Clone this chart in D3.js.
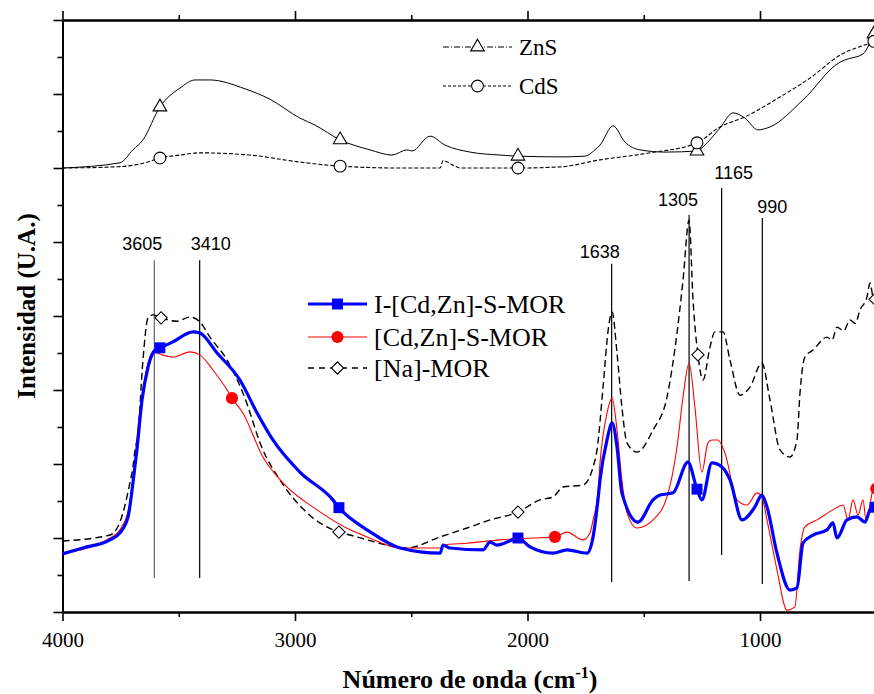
<!DOCTYPE html>
<html>
<head>
<meta charset="utf-8">
<script src="https://cdn.jsdelivr.net/npm/d3@7"></script>
<style>
  body { margin: 0; background: #fff; }
</style>
</head>
<body>
<div id="container"></div>
<script>
// x axis (wavenumber, reversed)
const xMajorTicks = [4000, 3000, 2000, 1000];
const xMinorTicks = [3500, 2500, 1500, 500];

// spectra: [wavenumber, intensity (a.u.)]
const znsData = [
  [4000, 12.0], [3753, 12.14], [3697, 12.49], [3654, 12.76], [3581, 13.65], [3495, 14.16],
  [3430, 14.38], [3366, 14.38], [3215, 14.14], [3108, 13.86], [2979, 13.35], [2914, 13.16],
  [2806, 12.76], [2677, 12.49], [2583, 12.35], [2518, 12.49], [2497, 12.46], [2419, 12.86],
  [2355, 12.62], [2247, 12.43], [2118, 12.35], [2041, 12.32], [1860, 12.30], [1753, 12.32],
  [1710, 12.49], [1688, 12.62], [1632, 13.14], [1581, 12.70], [1516, 12.49], [1409, 12.43],
  [1267, 12.46], [1237, 12.62], [1172, 13.08], [1116, 13.49], [1065, 13.35], [1009, 13.03],
  [957, 13.11], [815, 13.84], [656, 14.86], [635, 14.92], [557, 15.08], [530, 15.35],
  [510, 15.62], [441, 16.1]
];
const cdsData = [
  [4000, 12.0], [3774, 12.03], [3645, 12.14], [3581, 12.27], [3495, 12.35], [3409, 12.41],
  [3194, 12.35], [2979, 12.16], [2806, 12.05], [2548, 12.0], [2376, 12.0], [2363, 12.2],
  [2312, 12.05], [2290, 12.0], [2041, 12.0], [1860, 12.03], [1688, 12.22], [1473, 12.41],
  [1271, 12.68], [1172, 13.11], [1065, 13.38], [914, 13.92], [785, 14.43], [656, 15.05],
  [527, 15.38], [441, 15.6]
];
const iCdZnData = [
  [4000, 1.57], [3912, 1.73], [3796, 1.95], [3753, 2.14], [3718, 2.57], [3697, 3.49],
  [3680, 4.38], [3658, 5.73], [3632, 6.62], [3602, 7.08], [3581, 7.14], [3525, 7.30],
  [3439, 7.57], [3409, 7.54], [3335, 7.00], [3237, 6.27], [3163, 5.38], [3095, 4.65],
  [2979, 3.78], [2837, 3.03], [2811, 2.82], [2763, 2.54], [2690, 2.22], [2548, 1.73],
  [2376, 1.59], [2363, 1.81], [2333, 1.73], [2191, 1.68], [2161, 1.89], [2131, 1.81],
  [2088, 1.89], [2041, 2.0], [1989, 1.76], [1890, 1.59], [1830, 1.68], [1744, 1.59],
  [1718, 2.03], [1697, 3.03], [1688, 3.57], [1658, 4.65], [1636, 5.11], [1615, 4.46],
  [1594, 3.22], [1525, 2.43], [1460, 3.03], [1430, 3.16], [1374, 3.22], [1310, 4.05],
  [1271, 3.32], [1250, 3.03], [1207, 4.03], [1164, 3.92], [1129, 3.57], [1077, 2.49],
  [1022, 2.84], [992, 3.16], [970, 2.84], [927, 1.59], [871, 0.59], [841, 0.65],
  [815, 1.86], [772, 2.08], [712, 2.22], [686, 2.41], [669, 2.0], [626, 2.49],
  [583, 2.57], [548, 2.43], [527, 2.76], [484, 2.9]
];
const cdZnData = [
  [4000, 1.59], [3796, 2.0], [3753, 2.22], [3710, 2.95], [3688, 3.92], [3680, 4.65],
  [3654, 6.0], [3624, 6.89], [3611, 7.03], [3572, 6.95], [3525, 6.89], [3452, 7.03],
  [3409, 6.95], [3353, 6.54], [3292, 6.0], [3271, 5.78], [3224, 5.38], [3138, 4.19],
  [3052, 3.49], [2905, 2.76], [2763, 2.22], [2690, 2.03], [2548, 1.73], [2376, 1.73],
  [2363, 1.81], [2260, 1.86], [2118, 1.95], [1976, 2.0], [1882, 2.03], [1830, 2.16],
  [1761, 1.95], [1731, 2.14], [1718, 2.49], [1697, 3.22], [1688, 4.03], [1658, 5.38],
  [1636, 5.78], [1615, 4.92], [1594, 3.57], [1572, 2.68], [1529, 2.27], [1460, 2.49],
  [1400, 3.11], [1357, 4.46], [1331, 5.81], [1305, 6.73], [1280, 5.54], [1250, 3.78],
  [1224, 4.57], [1207, 4.65], [1181, 4.65], [1151, 4.30], [1099, 3.03], [1056, 2.89],
  [1013, 3.22], [992, 3.11], [970, 2.49], [927, 1.14], [884, 0.05], [850, 0.14],
  [828, 1.68], [807, 2.30], [755, 2.49], [686, 2.76], [643, 2.89], [621, 2.49],
  [600, 3.03], [578, 2.62], [557, 3.03], [544, 2.49], [527, 2.89], [514, 3.30], [470, 3.4]
];
const naMorData = [
  [4000, 1.92], [3796, 2.08], [3753, 2.43], [3710, 3.49], [3697, 3.92], [3688, 4.38],
  [3675, 4.84], [3654, 6.81], [3632, 7.95], [3611, 8.03], [3576, 7.95], [3508, 7.86],
  [3452, 7.97], [3409, 7.84], [3366, 7.43], [3292, 6.81], [3224, 5.92], [3138, 4.38],
  [3065, 3.57], [2948, 2.68], [2811, 2.16], [2763, 2.08], [2690, 1.95], [2518, 1.73],
  [2376, 2.03], [2260, 2.27], [2161, 2.49], [2041, 2.70], [1946, 3.03], [1890, 3.11],
  [1847, 3.38], [1761, 3.43], [1718, 3.92], [1701, 4.38], [1675, 6.08], [1653, 7.62],
  [1636, 8.11], [1615, 7.00], [1594, 5.54], [1572, 4.57], [1529, 4.32], [1460, 4.92],
  [1400, 5.81], [1357, 7.54], [1331, 8.97], [1305, 10.59], [1288, 8.43], [1267, 6.95],
  [1245, 6.27], [1215, 7.16], [1194, 7.57], [1159, 7.57], [1129, 6.81], [1086, 5.86],
  [1043, 6.08], [992, 6.73], [957, 5.73], [914, 4.38], [871, 4.19], [841, 4.65],
  [828, 5.92], [807, 6.89], [772, 7.08], [712, 7.43], [690, 7.35], [669, 7.70],
  [640, 7.6], [613, 7.89], [590, 7.8], [570, 8.16], [540, 8.51], [527, 8.89], [510, 8.43], [470, 8.6]
];

// marker positions (wavenumber)
const topMarkers = [3581, 2806, 2041, 1271, 510];
const squareMarkers = [3581, 2811, 2041, 1271, 505];
const circleMarkers = [3271, 1882, 500];
const diamondMarkers = [3576, 2811, 2041, 1267, 505];

// reference bands: [wavenumber, top, bottom]
const bandLabels = ['3605', '3410', '1638', '1305', '1165', '990'];
const bandLines = [
  [3605, 9.51, 0.92], [3410, 9.51, 0.92], [1638, 9.41, 0.81],
  [1305, 10.73, 0.84], [1165, 11.46, 1.54], [990, 10.65, 0.76]
];
const bandLabelLevels = [9.78, 9.78, 9.57, 10.97, 11.70, 10.78];
const bandLabelShift = [-12, 11, -12, -11, 12, 10];

const legendMain = ['I-[Cd,Zn]-S-MOR', '[Cd,Zn]-S-MOR', '[Na]-MOR'];
const legendTop = ['ZnS', 'CdS'];

const svgWidth = 874;
const svgHeight = 694;
const plotLeft = 62.5, plotRight = 899.5, plotTop = 20, plotBottom = 612;
const serif = "'Liberation Serif', 'Times New Roman', serif";
const sans = "'Liberation Sans', Arial, sans-serif";

const svg = d3.select('#container')
  .append('svg')
  .attr('width', svgWidth)
  .attr('height', svgHeight)
  .style('display', 'block');

svg.append('rect').attr('width', svgWidth).attr('height', svgHeight).attr('fill', '#fff');

const xScale = d3.scaleLinear().domain([4000, 400]).range([plotLeft, plotRight]);
const yScale = d3.scaleLinear().domain([0, 16]).range([plotBottom, plotTop]);

const line = d3.line()
  .x(d => xScale(d[0]))
  .y(d => yScale(d[1]))
  .curve(d3.curveMonotoneX);

const interp = (data, wn) => {
  for (let i = 0; i < data.length - 1; i++) {
    const a = data[i], b = data[i + 1];
    if (wn <= a[0] && wn >= b[0]) {
      const t = (a[0] - wn) / (a[0] - b[0]);
      return a[1] + t * (b[1] - a[1]);
    }
  }
  return data[data.length - 1][1];
};

const yTicksOf = parity => d3.range(0, 17).filter(v => v % 2 === parity);

// AXES
const styleAxis = g => {
  g.select('.domain').attr('stroke-width', 2);
  g.selectAll('.tick line').attr('stroke-width', 1.6);
};

svg.append('g')
  .attr('transform', `translate(0, ${plotBottom})`)
  .call(d3.axisBottom(xScale).tickValues(xMajorTicks).tickSize(9).tickSizeOuter(0)
    .tickPadding(11).tickFormat(d3.format('d')))
  .call(styleAxis)
  .call(g => g.selectAll('text')
    .style('font-family', serif)
    .style('font-size', '21px')
    .attr('fill', '#000'));

svg.append('g')
  .attr('transform', `translate(0, ${plotBottom})`)
  .call(d3.axisBottom(xScale).tickValues(xMinorTicks).tickSize(5).tickSizeOuter(0).tickFormat(''))
  .call(styleAxis);

svg.append('g')
  .attr('transform', `translate(0, ${plotTop})`)
  .call(d3.axisTop(xScale).tickValues(xMajorTicks).tickSize(9).tickSizeOuter(0).tickFormat(''))
  .call(styleAxis);

svg.append('g')
  .attr('transform', `translate(0, ${plotTop})`)
  .call(d3.axisTop(xScale).tickValues(xMinorTicks).tickSize(5).tickSizeOuter(0).tickFormat(''))
  .call(styleAxis);

svg.append('g')
  .attr('transform', `translate(${plotLeft}, 0)`)
  .call(d3.axisLeft(yScale).tickValues(yTicksOf(0)).tickSize(9).tickSizeOuter(0).tickFormat(''))
  .call(styleAxis);

svg.append('g')
  .attr('transform', `translate(${plotLeft}, 0)`)
  .call(d3.axisLeft(yScale).tickValues(yTicksOf(1)).tickSize(5).tickSizeOuter(0).tickFormat(''))
  .call(styleAxis);

// axis titles
svg.append('text')
  .attr('x', 470)
  .attr('y', 688)
  .attr('text-anchor', 'middle')
  .style('font-family', serif)
  .style('font-weight', 'bold')
  .style('font-size', '26px')
  .html('Número de onda (cm<tspan dy="-10" style="font-size:16px">-1</tspan><tspan dy="10">)</tspan>');

svg.append('text')
  .attr('transform', 'translate(35, 306) rotate(-90)')
  .attr('text-anchor', 'middle')
  .style('font-family', serif)
  .style('font-weight', 'bold')
  .style('font-size', '25px')
  .text('Intensidad (U.A.)');

// BAND LINES
bandLines.forEach((b, i) => {
  svg.append('line')
    .attr('x1', xScale(b[0])).attr('x2', xScale(b[0]))
    .attr('y1', yScale(b[1])).attr('y2', yScale(b[2]))
    .attr('stroke', i === 0 ? '#666' : '#000')
    .attr('stroke-width', 1.2);
  svg.append('text')
    .attr('x', xScale(b[0]) + bandLabelShift[i])
    .attr('y', yScale(bandLabelLevels[i]))
    .attr('text-anchor', 'middle')
    .style('font-family', sans)
    .style('font-size', '18px')
    .text(bandLabels[i]);
});

// SPECTRA
const series = [
  { data: znsData, color: '#000', width: 1, dash: null },
  { data: cdsData, color: '#000', width: 1.1, dash: '4,2' },
  { data: naMorData, color: '#000', width: 1.4, dash: '7,4' },
  { data: cdZnData, color: '#ff0000', width: 1.1, dash: null },
  { data: iCdZnData, color: '#0000ff', width: 3.2, dash: null }
];

series.forEach(s => {
  svg.append('path')
    .datum(s.data)
    .attr('d', line)
    .attr('fill', 'none')
    .attr('stroke', s.color)
    .attr('stroke-width', s.width)
    .attr('stroke-dasharray', s.dash);
});

// MARKERS
const sym = (type, size) => d3.symbol().type(type).size(size)();

const drawMarkers = (wns, data, type, size, fill, stroke, rot) => {
  svg.selectAll(null)
    .data(wns)
    .enter()
    .append('path')
    .attr('d', sym(type, size))
    .attr('transform', d => `translate(${xScale(d)}, ${yScale(interp(data, d))}) rotate(${rot || 0})`)
    .attr('fill', fill)
    .attr('stroke', stroke)
    .attr('stroke-width', 1.1);
};

drawMarkers(topMarkers, znsData, d3.symbolTriangle, 80, '#fff', '#000');
drawMarkers(topMarkers, cdsData, d3.symbolCircle, 110, '#fff', '#000');
drawMarkers(diamondMarkers, naMorData, d3.symbolSquare, 75, '#fff', '#000', 45);
drawMarkers(circleMarkers, cdZnData, d3.symbolCircle, 115, '#ff0000', 'none');
drawMarkers(squareMarkers, iCdZnData, d3.symbolSquare, 120, '#0000ff', 'none');

// LEGENDS
const legendItem = (x1, x2, y, style, marker, label, fs) => {
  svg.append('line')
    .attr('x1', x1).attr('x2', x2).attr('y1', y).attr('y2', y)
    .attr('stroke', style.color)
    .attr('stroke-width', style.width)
    .attr('stroke-dasharray', style.dash);
  svg.append('path')
    .attr('d', sym(marker.type, marker.size))
    .attr('transform', `translate(${(x1 + x2) / 2}, ${y}) rotate(${marker.rot || 0})`)
    .attr('fill', marker.fill)
    .attr('stroke', marker.stroke)
    .attr('stroke-width', 1.1);
  svg.append('text')
    .attr('x', x2 + 7)
    .attr('y', y + fs * 0.33)
    .style('font-family', serif)
    .style('font-size', `${fs}px`)
    .text(label);
};

legendItem(443, 512, 47, { color: '#000', width: 1, dash: '6,2,1,2' },
  { type: d3.symbolTriangle, size: 80, fill: '#fff', stroke: '#000' }, legendTop[0], 23);
legendItem(443, 512, 86, { color: '#000', width: 1.1, dash: '3,2' },
  { type: d3.symbolCircle, size: 110, fill: '#fff', stroke: '#000' }, legendTop[1], 23);

legendItem(308, 367, 304, { color: '#0000ff', width: 3.2, dash: null },
  { type: d3.symbolSquare, size: 120, fill: '#0000ff', stroke: 'none' }, legendMain[0], 26);
legendItem(308, 367, 337, { color: '#ff0000', width: 1.1, dash: null },
  { type: d3.symbolCircle, size: 115, fill: '#ff0000', stroke: 'none' }, legendMain[1], 26);
legendItem(308, 367, 368, { color: '#000', width: 1.3, dash: '6,5' },
  { type: d3.symbolSquare, size: 75, fill: '#fff', stroke: '#000', rot: 45 }, legendMain[2], 26);
</script>
</body>
</html>
